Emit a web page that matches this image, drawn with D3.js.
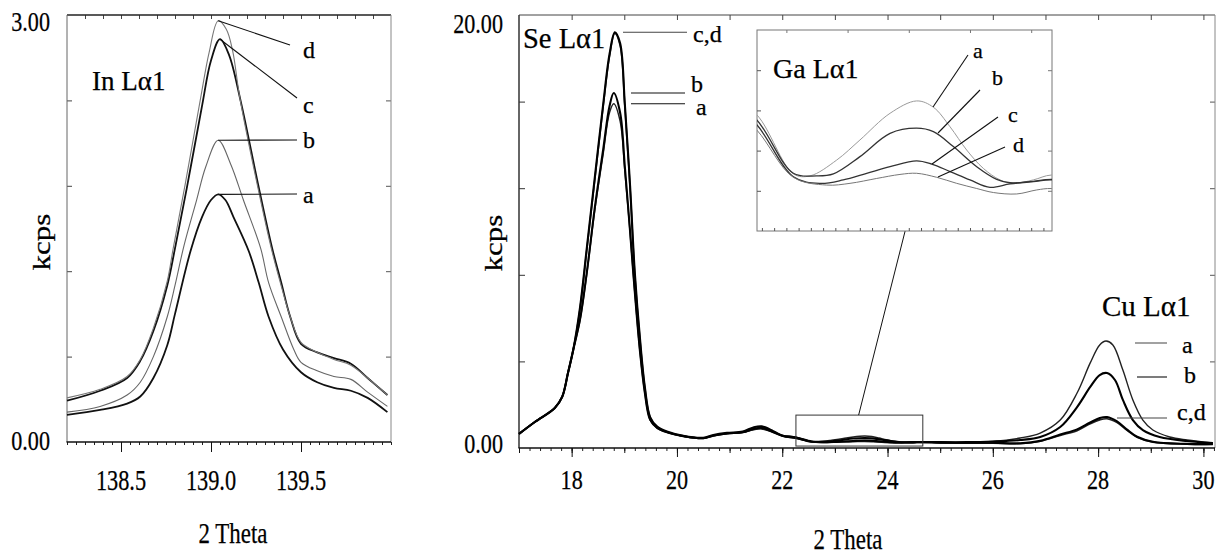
<!DOCTYPE html>
<html>
<head>
<meta charset="utf-8">
<script src="https://cdn.jsdelivr.net/npm/d3@7"></script>
<style>
  body { margin: 0; background: #fff; }
  svg { display: block; font-family: "Liberation Serif", "Times New Roman", serif; }
</style>
</head>
<body>
<svg id="fig" width="1219" height="554"></svg>
<script>
// ---------- In Lα1 scans: [2θ, kcps] ----------
const inA = [[138.2,0.19],[138.384,0.225],[138.534,0.27],[138.607,0.32],[138.68,0.45],[138.757,0.68],[138.80,0.90],[138.886,1.34],[138.95,1.58],[139.0,1.70],[139.04,1.74],[139.08,1.70],[139.125,1.58],[139.21,1.34],[139.265,1.12],[139.32,0.88],[139.40,0.65],[139.5,0.49],[139.59,0.42],[139.683,0.38],[139.777,0.36],[139.87,0.31],[139.98,0.21]];
const inB = [[138.2,0.21],[138.384,0.25],[138.534,0.33],[138.607,0.42],[138.68,0.60],[138.757,0.88],[138.80,1.10],[138.85,1.38],[138.92,1.70],[138.97,1.93],[139.04,2.12],[139.11,1.95],[139.18,1.70],[139.276,1.36],[139.32,1.12],[139.39,0.88],[139.46,0.65],[139.5,0.56],[139.59,0.50],[139.683,0.46],[139.777,0.44],[139.87,0.35],[139.98,0.25]];
const inC = [[138.2,0.29],[138.384,0.36],[138.534,0.45],[138.607,0.57],[138.68,0.78],[138.757,1.10],[138.80,1.36],[138.865,1.78],[138.95,2.36],[139.0,2.68],[139.05,2.83],[139.10,2.72],[139.164,2.40],[139.265,1.79],[139.34,1.36],[139.39,1.12],[139.44,0.88],[139.5,0.69],[139.59,0.63],[139.683,0.59],[139.777,0.55],[139.87,0.45],[139.98,0.33]];
const inD = [[138.2,0.31],[138.384,0.37],[138.534,0.46],[138.607,0.58],[138.68,0.80],[138.757,1.13],[138.79,1.36],[138.855,1.80],[138.94,2.40],[138.99,2.74],[139.04,2.96],[139.085,2.90],[139.12,2.75],[139.16,2.42],[139.26,1.79],[139.335,1.36],[139.385,1.12],[139.44,0.88],[139.5,0.70],[139.59,0.63],[139.683,0.58],[139.777,0.54],[139.87,0.45],[139.98,0.33]];

// ---------- Wide scans (Se, Ga, Cu Lα1): [2θ, kcps] ----------
const seRise = [[17.0,0.65],[17.3,1.2],[17.68,1.85],[17.82,2.36],[17.93,3.46],[18.03,4.53]];
const wideA = [...seRise,
  [18.16,5.91],[18.29,8.08],[18.44,11.0],[18.6,13.6],[18.72,15.5],[18.8,15.9],[18.92,15.1],[19.01,12.8],[19.11,9.93],[19.2,7.16],[19.3,4.39],[19.39,2.54],[19.49,1.29],[19.62,0.92],[19.81,0.72],[20.12,0.54],[20.5,0.44],[20.69,0.56],[20.95,0.66],[21.25,0.72],[21.45,0.84],[21.61,0.88],[21.83,0.72],[22.01,0.58],
  [22.26,0.504],[22.557,0.299],[22.693,0.292],[22.911,0.347],[23.101,0.417],[23.347,0.510],[23.564,0.553],[23.701,0.531],[23.837,0.463],[23.973,0.382],[24.109,0.318],[24.245,0.278],[24.354,0.266],[24.518,0.278],[24.667,0.295],
  [25.0,0.27],[25.5,0.26],[26.0,0.30],[26.52,0.46],[26.9,0.69],[27.28,1.29],[27.6,2.54],[27.85,3.93],[28.03,4.76],[28.15,4.94],[28.28,4.76],[28.47,3.6],[28.66,2.22],[28.85,1.29],[29.04,0.83],[29.36,0.51],[29.69,0.37],[30.18,0.23]];
const wideB = [...seRise,
  [18.16,5.95],[18.29,8.15],[18.44,11.1],[18.6,13.8],[18.72,15.8],[18.8,16.4],[18.92,15.5],[19.01,13.0],[19.11,10.0],[19.2,7.2],[19.3,4.42],[19.39,2.56],[19.49,1.31],[19.62,0.94],[19.81,0.73],[20.12,0.55],[20.5,0.45],[20.69,0.57],[20.95,0.67],[21.25,0.73],[21.45,0.88],[21.61,0.93],[21.83,0.73],[22.01,0.57],
  [22.26,0.486],[22.557,0.301],[22.747,0.292],[22.884,0.299],[23.101,0.359],[23.347,0.440],[23.564,0.458],[23.701,0.446],[23.864,0.394],[24.055,0.324],[24.218,0.280],[24.327,0.268],[24.490,0.272],[24.667,0.280],
  [25.0,0.27],[25.5,0.27],[26.0,0.30],[26.52,0.37],[26.9,0.51],[27.28,0.97],[27.6,1.89],[27.85,2.82],[28.03,3.37],[28.17,3.46],[28.32,3.14],[28.47,2.22],[28.66,1.29],[28.85,0.83],[29.17,0.51],[29.69,0.32],[30.18,0.23]];
const wideC = [...seRise,
  [18.16,6.51],[18.29,9.28],[18.44,12.5],[18.6,15.9],[18.72,18.2],[18.82,19.2],[18.92,18.7],[19.01,15.9],[19.11,12.1],[19.2,8.08],[19.3,4.99],[19.39,2.82],[19.49,1.43],[19.62,1.0],[19.81,0.76],[20.12,0.56],[20.5,0.47],[20.69,0.6],[20.95,0.7],[21.25,0.76],[21.45,0.95],[21.61,1.0],[21.83,0.78],[22.01,0.56],
  [22.26,0.469],[22.557,0.289],[22.775,0.266],[22.965,0.278],[23.156,0.301],[23.347,0.324],[23.564,0.344],[23.687,0.333],[23.837,0.307],[24.0,0.278],[24.164,0.252],[24.327,0.264],[24.518,0.272],[24.667,0.278],
  [25.0,0.25],[25.5,0.24],[26.0,0.24],[26.52,0.22],[26.9,0.33],[27.28,0.62],[27.6,0.86],[27.85,1.18],[28.03,1.38],[28.17,1.43],[28.36,1.23],[28.55,0.85],[28.74,0.52],[29.04,0.29],[29.69,0.19],[30.18,0.18]];
const wideD = [...seRise,
  [18.16,6.45],[18.29,9.2],[18.44,12.4],[18.6,15.8],[18.72,18.1],[18.82,19.15],[18.92,18.6],[19.01,15.8],[19.11,12.0],[19.2,8.0],[19.3,4.95],[19.39,2.8],[19.49,1.42],[19.62,0.98],[19.81,0.74],[20.12,0.55],[20.5,0.46],[20.69,0.57],[20.95,0.67],[21.25,0.72],[21.45,0.86],[21.61,0.9],[21.83,0.74],[22.01,0.55],
  [22.26,0.451],[22.557,0.287],[22.829,0.260],[23.020,0.266],[23.238,0.283],[23.428,0.297],[23.564,0.301],[23.728,0.287],[23.891,0.266],[24.055,0.248],[24.191,0.234],[24.382,0.229],[24.545,0.243],[24.667,0.248],
  [25.0,0.23],[25.5,0.22],[26.0,0.22],[26.52,0.2],[26.9,0.31],[27.28,0.58],[27.6,0.8],[27.85,1.12],[28.03,1.3],[28.17,1.35],[28.36,1.17],[28.55,0.81],[28.74,0.5],[29.04,0.27],[29.69,0.18],[30.18,0.17]];

// ---------- axis domains and tick labels ----------
const inXDomain = [138.2, 140.0];
const inYDomain = [0, 3];
const inXTickLabels = ["138.5", "139.0", "139.5"];
const inYTickLabels = ["0.00", "3.00"];
const wideXDomain = [17, 30.22];
const wideYDomain = [0, 20];
const wideXTickLabels = ["18", "20", "22", "24", "26", "28", "30"];
const wideYTickLabels = ["0.00", "20.00"];
const gaXDomain = [22.26, 24.67];
const gaYDomain = [0.1, 0.8];
const gaWindowY = [0.09, 1.52];
const seriesNames = ["a", "b", "c", "d"];

// ---------- drawing ----------
const svg = d3.select("#fig");
const SQ = 0.79; // horizontal squeeze of the tall axis lettering
const smooth = d3.curveCatmullRom.alpha(0.5);

function squeeze(sel, f) {
  sel.each(function () {
    const w = this.getComputedTextLength();
    d3.select(this).attr("textLength", w * f).attr("lengthAdjust", "spacingAndGlyphs");
  });
  return sel;
}
function text(parent, x, y, str, size, anchor, f) {
  const t = parent.append("text").attr("x", x).attr("y", y)
    .attr("font-size", size).attr("text-anchor", anchor || "start")
    .attr("fill", "#000").attr("stroke", "#000").attr("stroke-width", 0.25).text(str);
  if (f) squeeze(t, f);
  return t;
}
function tickRow(parent, axisFn, scale, values, size, tx, ty, color) {
  const g = parent.append("g").attr("transform", `translate(${tx},${ty})`)
    .call(axisFn(scale).tickValues(values).tickSize(size).tickFormat(""));
  g.select(".domain").remove();
  g.selectAll("line").attr("stroke", color || "#222").attr("stroke-width", 1);
  return g;
}
function edge(parent, x1, y1, x2, y2, color, w) {
  parent.append("line").attr("x1", x1).attr("y1", y1).attr("x2", x2).attr("y2", y2)
    .attr("stroke", color).attr("stroke-width", w);
}
function leader(parent, x1, y1, x2, y2, color) {
  edge(parent, x1, y1, x2, y2, color || "#111", 1.1);
}

// ===== In Lα1 panel =====
const inBox = { l: 67, r: 391, t: 15, b: 442 };
const xIn = d3.scaleLinear().domain(inXDomain).range([inBox.l, inBox.r]);
const yIn = d3.scaleLinear().domain(inYDomain).range([inBox.b, inBox.t]);
const gIn = svg.append("g");

tickRow(gIn, d3.axisBottom, xIn, d3.range(138.2, 140.001, 0.05), 3, 0, inBox.b);
tickRow(gIn, d3.axisBottom, xIn, [138.5, 139.0, 139.5], 10, 0, inBox.b, "#111");
tickRow(gIn, d3.axisBottom, xIn, d3.range(138.3, 139.95, 0.1), 4, 0, inBox.t, "#444");
tickRow(gIn, d3.axisRight, yIn, d3.range(0.6, 2.5, 0.6), 5, inBox.l, 0, "#444");
tickRow(gIn, d3.axisLeft, yIn, d3.range(0.6, 2.5, 0.6), 5, inBox.r, 0, "#555");

edge(gIn, inBox.l, inBox.t, inBox.r, inBox.t, "#222", 1.6);
edge(gIn, inBox.l, inBox.t, inBox.l, inBox.b, "#666", 1);
edge(gIn, inBox.r, inBox.t, inBox.r, inBox.b, "#888", 1);
edge(gIn, inBox.l - 0.5, inBox.b, inBox.r, inBox.b, "#111", 1.5);

const lineIn = d3.line().x(d => xIn(d[0])).y(d => yIn(d[1])).curve(smooth);
const inStyles = [
  { data: inA, color: "#111", w: 1.8 },
  { data: inB, color: "#666", w: 1.1 },
  { data: inC, color: "#111", w: 1.8 },
  { data: inD, color: "#777", w: 1.1 }
];
gIn.selectAll("path.scan").data(inStyles).join("path").attr("class", "scan")
  .attr("d", s => lineIn(s.data)).attr("fill", "none")
  .attr("stroke", s => s.color).attr("stroke-width", s => s.w);

// peak labels
const peakOf = arr => arr.reduce((m, p) => (p[1] > m[1] ? p : m), arr[0]);
const inLabelPos = [[297, 194, 303, 203], [297, 140, 303, 148], [297, 98, 303, 113], [290, 45, 303, 58]];
[inA, inB, inC, inD].forEach((arr, i) => {
  const p = peakOf(arr);
  const [lx, ly, tx, ty] = inLabelPos[i];
  leader(gIn, xIn(p[0]), yIn(p[1]), lx, ly);
  text(gIn, tx, ty, seriesNames[i], 24);
});

text(gIn, 92, 90, "In Lα1", 27);
inXTickLabels.forEach(s => text(gIn, xIn(+s), 490, s, 29, "middle", 0.77));
text(gIn, 50, yIn(0) + 8, inYTickLabels[0], 28, "end", SQ);
text(gIn, 50, yIn(3) + 16, inYTickLabels[1], 28, "end", SQ);
text(gIn, 233, 543, "2 Theta", 29, "middle", SQ);
squeeze(gIn.append("text").attr("transform", "translate(50,242) rotate(-90)")
  .attr("font-size", 25).attr("text-anchor", "middle")
  .attr("stroke", "#000").attr("stroke-width", 0.25).text("kcps"), 1.24);

// ===== Se / Ga / Cu Lα1 panel =====
const wBox = { l: 519, r: 1215, t: 15, b: 448 };
const xW = d3.scaleLinear().domain(wideXDomain).range([wBox.l, wBox.r]);
const yW = d3.scaleLinear().domain(wideYDomain).range([wBox.b, wBox.t]);
const gW = svg.append("g");

tickRow(gW, d3.axisBottom, xW, d3.range(17.2, 30.21, 0.2), 3, 0, wBox.b);
tickRow(gW, d3.axisBottom, xW, d3.range(17, 30.01, 1), 5, 0, wBox.b, "#111");
tickRow(gW, d3.axisBottom, xW, d3.range(18, 30.01, 2), 9, 0, wBox.b, "#111");
tickRow(gW, d3.axisBottom, xW, d3.range(18, 30.01, 1), 5, 0, wBox.t, "#444");
tickRow(gW, d3.axisRight, yW, d3.range(4, 17, 4), 6, wBox.l, 0, "#333");
tickRow(gW, d3.axisLeft, yW, d3.range(4, 17, 4), 5, wBox.r, 0, "#555");

edge(gW, wBox.l, wBox.t, wBox.r, wBox.t, "#444", 1);
edge(gW, wBox.l, wBox.t, wBox.l, wBox.b, "#333", 1.5);
edge(gW, wBox.r, wBox.t, wBox.r, wBox.b, "#888", 1);
edge(gW, wBox.l - 0.5, wBox.b, wBox.r, wBox.b, "#111", 1.5);

const lineW = d3.line().x(d => xW(d[0])).y(d => yW(d[1])).curve(smooth);
const wStyles = [
  { data: wideD, color: "#222", w: 1.6 },
  { data: wideC, color: "#000", w: 2.1 },
  { data: wideA, color: "#222", w: 1.4 },
  { data: wideB, color: "#000", w: 2.1 }
];
gW.selectAll("path.scan").data(wStyles).join("path").attr("class", "scan")
  .attr("d", s => lineW(s.data)).attr("fill", "none")
  .attr("stroke", s => s.color).attr("stroke-width", s => s.w);

// zoom window around the Ga line
gW.append("rect")
  .attr("x", xW(gaXDomain[0])).attr("y", yW(gaWindowY[1]))
  .attr("width", xW(gaXDomain[1]) - xW(gaXDomain[0]))
  .attr("height", yW(gaWindowY[0]) - yW(gaWindowY[1]))
  .attr("fill", "none").attr("stroke", "#333").attr("stroke-width", 1);

// Se peak labels
const pa = peakOf(wideA), pb = peakOf(wideB), pc = peakOf(wideC);
leader(gW, 623, yW(pc[1]), 687, yW(pc[1]), "#444");
leader(gW, 631, yW(pb[1]), 685, yW(pb[1]));
leader(gW, 631, yW(pa[1]), 685, yW(pa[1]));
text(gW, 693, 42, "c,d", 24);
text(gW, 691, 92, "b", 24);
text(gW, 696, 115, "a", 24);
text(gW, 523, 48, "Se Lα1", 28.5);

// Cu peak labels
leader(gW, 1135, 343, 1167, 343, "#555");
leader(gW, 1137, 377, 1167, 377);
leader(gW, 1117, 418, 1167, 418, "#444");
text(gW, 1182, 353, "a", 24);
text(gW, 1184, 383, "b", 24);
text(gW, 1177, 420, "c,d", 24);
text(gW, 1102, 316, "Cu Lα1", 29);

// axis labels
wideXTickLabels.forEach(s => text(gW, xW(+s), 489, s, 28, "middle", SQ));
text(gW, 503, yW(0) + 5, wideYTickLabels[0], 28, "end", SQ);
text(gW, 503, yW(20) + 18, wideYTickLabels[1], 28, "end", SQ);
text(gW, 848, 549, "2 Theta", 29, "middle", SQ);
squeeze(gW.append("text").attr("transform", "translate(502,243) rotate(-90)")
  .attr("font-size", 25).attr("text-anchor", "middle")
  .attr("stroke", "#000").attr("stroke-width", 0.25).text("kcps"), 1.24);

// ===== Ga Lα1 inset =====
const gBox = { l: 757, r: 1052, t: 30, b: 231 };
const xG = d3.scaleLinear().domain(gaXDomain).range([gBox.l, gBox.r]);
const yG = d3.scaleLinear().domain(gaYDomain).range([gBox.b, gBox.t]);
const gG = svg.append("g");

// connector from the zoom window up to the inset
const midX = 23.47;
edge(gG, xW(midX) - 1, yW(gaWindowY[1]), xG(midX), gBox.b, "#111", 1);

gG.append("rect").attr("x", gBox.l).attr("y", gBox.t)
  .attr("width", gBox.r - gBox.l).attr("height", gBox.b - gBox.t)
  .attr("fill", "#fff").attr("stroke", "#777").attr("stroke-width", 1);
tickRow(gG, d3.axisTop, xG, d3.range(22.3, 24.67, 0.1), 3, 0, gBox.b, "#555");
tickRow(gG, d3.axisBottom, xG, d3.range(22.5, 24.67, 0.5), 3, 0, gBox.t, "#777");
tickRow(gG, d3.axisRight, yG, d3.range(0.24, 0.8, 0.14), 4, gBox.l, 0, "#555");
tickRow(gG, d3.axisLeft, yG, d3.range(0.24, 0.8, 0.14), 4, gBox.r, 0, "#777");

gG.append("clipPath").attr("id", "gaClip").append("rect")
  .attr("x", gBox.l).attr("y", gBox.t).attr("width", gBox.r - gBox.l).attr("height", gBox.b - gBox.t);
const lineG = d3.line().x(d => xG(d[0])).y(d => yG(d[1])).curve(smooth);
const gStyles = [
  { data: wideA, color: "#9a9a9a", w: 1.0 },
  { data: wideB, color: "#333", w: 1.3 },
  { data: wideC, color: "#333", w: 1.3 },
  { data: wideD, color: "#777", w: 1.0 }
];
gG.append("g").attr("clip-path", "url(#gaClip)")
  .selectAll("path").data(gStyles).join("path")
  .attr("d", s => lineG(s.data)).attr("fill", "none")
  .attr("stroke", s => s.color).attr("stroke-width", s => s.w);

leader(gG, 933, 107, 968, 55);
leader(gG, 938, 133, 980, 90);
leader(gG, 932, 164, 998, 117);
leader(gG, 938, 177, 1005, 147);
text(gG, 973, 58, "a", 22);
text(gG, 992, 85, "b", 22);
text(gG, 1008, 122, "c", 22);
text(gG, 1013, 152, "d", 22);
text(gG, 773, 78, "Ga Lα1", 28);
</script>
</body>
</html>
